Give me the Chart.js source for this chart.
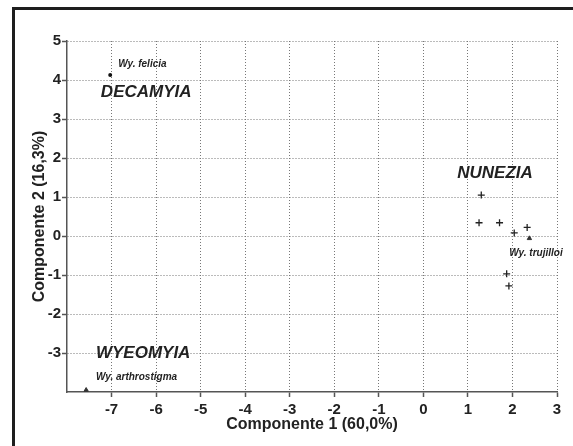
<!DOCTYPE html>
<html>
<head>
<meta charset="utf-8">
<script src="https://cdn.jsdelivr.net/npm/chart.js@4"></script>
<style>
  html, body { margin: 0; padding: 0; background: #fff; }
  #wrap { position: relative; width: 573px; height: 446px; }
  #frame {
    position: absolute; left: 12px; top: 7px; right: 0; bottom: 0;
    border-top: 3px solid #1e1e1e; border-left: 3px solid #1e1e1e;
  }
  canvas { position: absolute; left: 0; top: 0; }
</style>
</head>
<body>
<div id="wrap">
  <div id="frame"></div>
  <canvas id="chart" width="573" height="446"></canvas>
</div>
<script>
const FONT = "'Liberation Sans', Arial, sans-serif";

// species scores on the first two components
const feliciaPts = [{ x: -7.03, y: 4.13 }];
const arthrostigmaPts = [{ x: -7.57, y: -3.95 }];
const nuneziaPts = [
  { x: 1.30, y: 1.05 },
  { x: 1.25, y: 0.34 },
  { x: 1.71, y: 0.34 },
  { x: 2.33, y: 0.22 },
  { x: 2.04, y: 0.08 },
  { x: 1.87, y: -0.97 },
  { x: 1.92, y: -1.28 },
];
const trujilloiPts = [{ x: 2.38, y: -0.06 }];

// text labels (data units, left edge / vertical middle)
const groupNames = ['DECAMYIA', 'NUNEZIA', 'WYEOMYIA'];
const groupX = [-7.24, 0.76, -7.35];
const groupY = [3.69, 1.62, -3.0];
const speciesNames = ['Wy. felicia', 'Wy. trujilloi', 'Wy. arthrostigma'];
const speciesX = [-6.85, 1.93, -7.35];
const speciesY = [4.41, -0.44, -3.62];

const xTitle = 'Componente 1 (60,0%)';
const yTitle = 'Componente 2 (16,3%)';

const textLabels = {
  id: 'textLabels',
  afterDatasetsDraw(chart) {
    const { ctx, scales: { x, y } } = chart;
    ctx.save();
    ctx.fillStyle = '#222';
    ctx.textAlign = 'left';
    ctx.textBaseline = 'middle';
    ctx.font = `italic bold 17px ${FONT}`;
    groupNames.forEach((t, i) => {
      ctx.fillText(t, x.getPixelForValue(groupX[i]), y.getPixelForValue(groupY[i]));
    });
    ctx.font = `italic bold 10px ${FONT}`;
    speciesNames.forEach((t, i) => {
      ctx.fillText(t, x.getPixelForValue(speciesX[i]), y.getPixelForValue(speciesY[i]));
    });
    ctx.restore();
  },
};

const gridOpts = {
  color: '#777',
  lineWidth: 1,
  tickColor: '#555',
  tickWidth: 1.5,
  tickBorderDash: [],
  tickLength: 5,
};
// in v4 border.dash is what dashes the grid lines
const borderOpts = { display: true, color: '#555', width: 1.5, dash: [1, 2] };

const dropEdge = (v) => (scale) => {
  scale.ticks = scale.ticks.filter((t) => t.value !== v);
};

new Chart(document.getElementById('chart'), {
  type: 'scatter',
  data: {
    datasets: [
      {
        data: feliciaPts,
        pointStyle: 'circle',
        pointRadius: 2,
        backgroundColor: '#111',
        borderColor: '#111',
        borderWidth: 0,
      },
      {
        data: arthrostigmaPts,
        pointStyle: 'triangle',
        pointRadius: 2.5,
        backgroundColor: '#333',
        borderColor: '#333',
        borderWidth: 1,
      },
      {
        data: nuneziaPts,
        pointStyle: 'cross',
        pointRadius: 3.5,
        borderColor: '#222',
        borderWidth: 1.3,
      },
      {
        data: trujilloiPts,
        pointStyle: 'triangle',
        pointRadius: 2.5,
        backgroundColor: '#333',
        borderColor: '#333',
        borderWidth: 1,
      },
    ],
  },
  options: {
    animation: false,
    responsive: false,
    clip: false,
    layout: { padding: { left: 0, top: 41, right: 16, bottom: 0 } },
    plugins: { legend: { display: false }, tooltip: { enabled: false } },
    scales: {
      x: {
        type: 'linear',
        min: -8,
        max: 3,
        afterFit: (s) => { s.height = 54; },
        afterBuildTicks: dropEdge(-8),
        ticks: {
          stepSize: 1,
          color: '#222',
          padding: 4,
          font: { family: FONT, size: 15, weight: 'bold' },
        },
        grid: gridOpts,
        border: borderOpts,
        title: {
          display: true,
          text: xTitle,
          color: '#222',
          padding: { top: 0, bottom: 12 },
          font: { family: FONT, size: 16, weight: 'bold' },
        },
      },
      y: {
        type: 'linear',
        min: -4,
        max: 5,
        afterFit: (s) => { s.width = 67; },
        afterBuildTicks: dropEdge(-4),
        ticks: {
          stepSize: 1,
          color: '#222',
          padding: 1,
          font: { family: FONT, size: 15, weight: 'bold' },
        },
        grid: gridOpts,
        border: borderOpts,
        title: {
          display: true,
          text: yTitle,
          color: '#222',
          padding: { top: 30, bottom: 0 },
          font: { family: FONT, size: 16, weight: 'bold' },
        },
      },
    },
  },
  plugins: [textLabels],
});
</script>
</body>
</html>
